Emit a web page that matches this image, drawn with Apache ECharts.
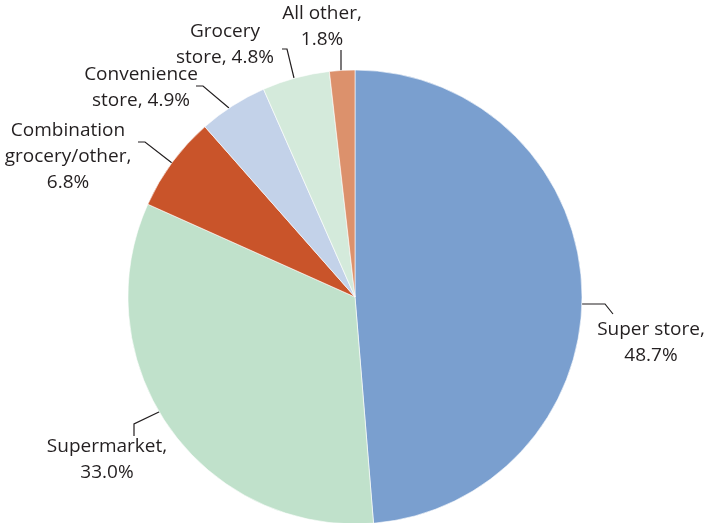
<!DOCTYPE html>
<html>
<head>
<meta charset="utf-8">
<script src="https://cdn.jsdelivr.net/npm/echarts@6/dist/echarts.min.js"></script>
<style>
html, body { margin: 0; padding: 0; background: #fff; }
#storeShare { width: 708px; height: 523px; }
</style>
</head>
<body>
<div id="storeShare"></div>
<script>
// store types, clockwise from 12 o'clock (name text already carries its line break before the value)
var storeNames = ['Super store,\n', 'Supermarket,\n', 'Combination\ngrocery/other,\n', 'Convenience\nstore, ', 'Grocery\nstore, ', 'All other,\n'];
var storeShares = [48.7, 33.0, 6.8, 4.9, 4.8, 1.8];
var storeColors = ['#7a9fcf', '#c0e1cb', '#c9542a', '#c3d2e9', '#d4eadb', '#dc916c'];

// hand placed label boxes and leader lines
var labelSpots = [
	{x: 651, y: 343, line: [[582, 304], [605, 304], [613, 314]]},
	{x: 107, y: 460, line: [[161, 411], [134, 424], [134, 436]]},
	{x: 68, y: 157, line: [[172, 163], [145, 142], [138, 142]]},
	{x: 141, y: 88, line: [[229, 108], [203, 86], [196, 86]]},
	{x: 225, y: 45, line: [[294, 78], [287, 49], [282, 49]]},
	{x: 322, y: 27, line: [[341, 72], [341, 50]]}
];

function storeShareChart() {
	var myChart = echarts.init(document.getElementById('storeShare'));
	var pieData = [];
	for (var i = 0; i < storeShares.length; i++) {
		pieData.push({
			name: storeNames[i],
			value: storeShares[i],
			itemStyle: {color: storeColors[i]},
			label: {formatter: storeNames[i] + storeShares[i].toFixed(1) + '%'}
		});
	}

	var option = {
		animation: false,
		series: [{
			type: 'pie',
			center: [355, 297],
			radius: 227,
			startAngle: 90,
			clockwise: true,
			itemStyle: {borderColor: '#ffffff', borderWidth: 0.6},
			label: {
				show: true,
				position: 'outside',
				color: '#231f20',
				fontSize: 19,
				lineHeight: 26,
				fontFamily: 'Open Sans',
				align: 'center',
				overflow: 'none',
				width: 200
			},
			labelLine: {
				show: true,
				length: 10,
				length2: 10,
				lineStyle: {color: '#231f20', width: 1.2}
			},
			labelLayout: function (params) {
				var s = labelSpots[params.dataIndex];
				return {
					x: s.x,
					y: s.y,
					align: 'center',
					verticalAlign: 'middle',
					labelLinePoints: s.line
				};
			},
			emphasis: {disabled: true},
			data: pieData
		}]
	};
	myChart.setOption(option);
}
storeShareChart();
</script>
</body>
</html>
